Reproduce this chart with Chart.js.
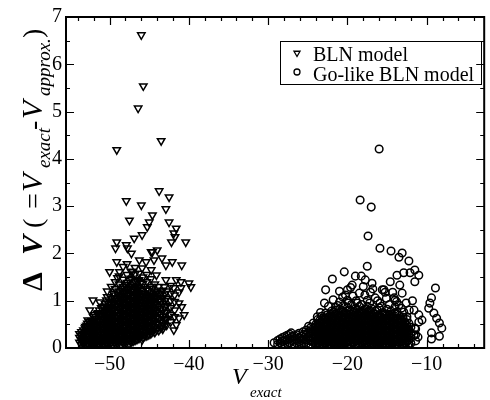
<!DOCTYPE html>
<html>
<head>
<meta charset="utf-8">
<script src="https://cdn.jsdelivr.net/npm/chart.js@4.4.1/dist/chart.umd.min.js"></script>
<style>
  html, body { margin: 0; padding: 0; background: #fff; }
  #wrap { width: 490px; height: 400px; }
</style>
</head>
<body>
<div id="wrap"><canvas id="c" width="490" height="400"></canvas></div>
<script>
// ---------------- data ----------------
const seriesNames = ['BLN model', 'Go-like BLN model'];
const xTicks = [-50, -40, -30, -20, -10];
const yTicks = [0, 1, 2, 3, 4, 5, 6, 7];

// BLN model: isolated points [V_exact, ΔV]
const blnSparse = [
  [-46.0,6.62],[-45.75,5.54],[-46.4,5.07],[-49.1,4.19],[-43.5,4.38],[-43.75,3.32],[-42.5,3.19],
  [-47.9,3.11],[-46.0,3.02],[-42.9,2.94],[-44.6,2.81],[-47.5,2.70],[-45.0,2.66],[-45.25,2.56],
  [-42.5,2.66],[-41.6,2.53],[-41.9,2.43],[-41.75,2.35],[-40.4,2.24],[-45.9,2.39],[-46.9,2.32],
  [-47.9,2.18],[-49.1,2.24],[-49.25,2.11],[-47.75,2.11],[-47.25,2.0],[-44.75,2.03],[-44.0,2.07],
  [-49.1,1.82],[-46.25,1.86],[-45.4,1.82],[-44.4,1.86],[-43.4,1.90],[-42.1,1.82],[-40.9,1.75],
  [-42.9,1.75],[-50.0,1.61],[-48.75,1.61],[-49.0,1.48],[-47.1,1.61],[-45.9,1.69],[-44.75,1.65],
  [-44.1,1.54],[-42.9,1.44],[-41.6,1.44],[-41.0,1.40],[-40.0,1.37],[-39.75,1.29],[-41.0,1.27],
  [-41.9,1.27],[-41.25,1.18],[-43.1,1.29],[-43.5,1.18],[-51.25,0.97],[-52.1,1.01],[-50.4,1.01],
  [-50.25,0.87],[-52.5,0.80],[-51.9,0.70],[-52.75,0.59],[-53.1,0.42],[-53.4,0.13],[-41.25,0.95],
  [-40.9,0.87],[-40.6,0.70],[-41.25,0.63],[-41.6,0.49],[-41.9,0.38],[-43.4,0.44],[-42.9,0.59],
  [-45.9,0.17],[-42.2,2.24],[-44.6,2.03]
];
// BLN model: dense cloud, columns [V_exact, [ΔV ...]]
const blnDense = [
  [-53.8,[0.12,0.22,0.30]],
  [-53.3,[0.08,0.18,0.28,0.38]],
  [-52.8,[0.10,0.20,0.31,0.42,0.52]],
  [-52.3,[0.06,0.15,0.25,0.36,0.47,0.58]],
  [-51.8,[0.09,0.19,0.29,0.40,0.50,0.62]],
  [-51.3,[0.05,0.14,0.24,0.34,0.45,0.55,0.68,0.80]],
  [-50.8,[0.10,0.20,0.30,0.41,0.52,0.63,0.74,0.88]],
  [-50.3,[0.07,0.17,0.27,0.38,0.48,0.59,0.70,0.82,1.08,1.20]],
  [-49.8,[0.12,0.22,0.33,0.44,0.55,0.66,0.78,0.92,1.05,1.30]],
  [-49.3,[0.08,0.18,0.29,0.40,0.52,0.64,0.75,0.88,1.00,1.12,1.25,1.40]],
  [-48.8,[0.13,0.24,0.35,0.47,0.58,0.70,0.83,0.95,1.08,1.20,1.35,1.52]],
  [-48.3,[0.10,0.20,0.31,0.43,0.55,0.67,0.79,0.91,1.03,1.16,1.30,1.45,1.72]],
  [-47.8,[0.15,0.26,0.38,0.50,0.62,0.74,0.86,0.99,1.11,1.24,1.38,1.55,1.78]],
  [-47.3,[0.12,0.22,0.34,0.46,0.58,0.70,0.82,0.94,1.06,1.19,1.33,1.47,1.62]],
  [-46.8,[0.16,0.28,0.40,0.52,0.64,0.76,0.88,1.00,1.13,1.26,1.40,1.56,1.70]],
  [-46.3,[0.20,0.31,0.43,0.55,0.67,0.79,0.91,1.04,1.17,1.30,1.44,1.58]],
  [-45.8,[0.22,0.35,0.47,0.59,0.71,0.83,0.96,1.09,1.22,1.36,1.50]],
  [-45.3,[0.26,0.38,0.50,0.62,0.74,0.86,0.99,1.12,1.25,1.40,1.55]],
  [-44.8,[0.30,0.42,0.54,0.66,0.78,0.90,1.03,1.16,1.30,1.46]],
  [-44.3,[0.33,0.45,0.57,0.69,0.81,0.94,1.07,1.20,1.35]],
  [-43.8,[0.37,0.50,0.62,0.75,0.88,1.01,1.15,1.30]],
  [-43.3,[0.40,0.54,0.67,0.80,0.93,1.06,1.22]],
  [-42.8,[0.48,0.62,0.76,0.90,1.05,1.20]],
  [-42.3,[0.55,0.70,0.85,1.00,1.15,1.32]],
  [-41.8,[0.66,0.80,0.98,1.12]]
];
const blnDense2 = [
  [-53.55,[0.07,0.17,0.26,0.34]],
  [-53.05,[0.05,0.14,0.24,0.33,0.45]],
  [-52.55,[0.13,0.23,0.35,0.46,0.55]],
  [-52.05,[0.04,0.12,0.22,0.33,0.44,0.54,0.66]],
  [-51.55,[0.07,0.17,0.27,0.37,0.48,0.58,0.73]],
  [-51.05,[0.09,0.18,0.28,0.38,0.49,0.60,0.71,0.85]],
  [-50.55,[0.05,0.14,0.24,0.35,0.45,0.56,0.67,0.78,0.93]],
  [-50.05,[0.10,0.20,0.30,0.41,0.52,0.62,0.74,0.86,0.98]],
  [-49.55,[0.06,0.15,0.26,0.37,0.48,0.59,0.70,0.82,0.96,1.15]],
  [-49.05,[0.10,0.21,0.32,0.44,0.56,0.68,0.80,0.93,1.05,1.18]],
  [-48.55,[0.07,0.17,0.28,0.39,0.51,0.63,0.75,0.87,0.99,1.12,1.26]],
  [-48.05,[0.12,0.23,0.35,0.47,0.59,0.71,0.83,0.95,1.07,1.20,1.34]],
  [-47.55,[0.09,0.19,0.30,0.42,0.54,0.66,0.78,0.90,1.02,1.15,1.29,1.44]],
  [-47.05,[0.14,0.26,0.38,0.50,0.62,0.74,0.86,0.98,1.10,1.23,1.37]],
  [-46.55,[0.18,0.30,0.42,0.54,0.66,0.78,0.90,1.02,1.15,1.28,1.42]],
  [-46.05,[0.24,0.36,0.48,0.60,0.72,0.85,0.97,1.10,1.24,1.38]],
  [-45.55,[0.25,0.40,0.53,0.65,0.77,0.89,1.02,1.15,1.30]],
  [-45.05,[0.28,0.44,0.57,0.70,0.82,0.95,1.08,1.22]],
  [-44.55,[0.34,0.48,0.61,0.74,0.86,0.99,1.12,1.26]],
  [-44.05,[0.38,0.52,0.65,0.78,0.91,1.04,1.18]],
  [-43.55,[0.42,0.57,0.71,0.84,0.98,1.12]],
  [-43.05,[0.47,0.60,0.74,0.87,1.00,1.14]]
];
const blnDense3 = [
  [-53.4,[0.10,0.20,0.29]],
  [-52.9,[0.06,0.16,0.26,0.37,0.48]],
  [-52.4,[0.10,0.20,0.30,0.41,0.52]],
  [-51.9,[0.06,0.14,0.24,0.35,0.45,0.56]],
  [-51.4,[0.10,0.19,0.29,0.40,0.50,0.62,0.74]],
  [-50.9,[0.06,0.15,0.25,0.35,0.46,0.57,0.68,0.80]],
  [-50.4,[0.12,0.22,0.32,0.43,0.54,0.65,0.76,0.88]],
  [-49.9,[0.08,0.17,0.27,0.38,0.49,0.60,0.72,0.85,0.97]],
  [-49.4,[0.13,0.23,0.34,0.46,0.58,0.70,0.82,0.94,1.06]],
  [-48.9,[0.09,0.19,0.30,0.41,0.53,0.64,0.76,0.89,1.01,1.14]],
  [-48.4,[0.15,0.26,0.37,0.49,0.61,0.73,0.85,0.97,1.10,1.22]],
  [-47.9,[0.10,0.21,0.32,0.44,0.56,0.68,0.80,0.92,1.05,1.18,1.30]],
  [-47.4,[0.17,0.28,0.40,0.52,0.64,0.76,0.88,1.00,1.13,1.26]],
  [-46.9,[0.22,0.34,0.46,0.58,0.70,0.82,0.94,1.07,1.20]],
  [-46.4,[0.25,0.37,0.49,0.61,0.73,0.85,0.97,1.10,1.23]],
  [-45.9,[0.28,0.41,0.53,0.65,0.77,0.90,1.02,1.15]],
  [-45.4,[0.32,0.44,0.56,0.68,0.80,0.93,1.06]],
  [-44.9,[0.36,0.48,0.60,0.72,0.84,0.97,1.10]],
  [-44.4,[0.40,0.52,0.64,0.76,0.88,1.01]]
];

// Go-like BLN model: isolated points [V_exact, ΔV]
const goSparse = [
  [-16.0,4.21],[-18.4,3.13],[-17.0,2.98],[-17.4,2.37],[-15.9,2.11],[-14.5,2.05],[-13.1,2.01],
  [-13.5,1.92],[-12.25,1.84],[-17.5,1.73],[-20.4,1.61],[-19.0,1.52],[-18.25,1.52],[-17.75,1.44],
  [-21.9,1.46],[-16.9,1.37],[-19.4,1.33],[-22.75,1.23],[-20.0,1.23],[-20.25,1.12],[-18.5,1.16],
  [-17.1,1.18],[-15.6,1.23],[-15.25,1.18],[-14.6,1.40],[-13.75,1.54],[-12.9,1.59],[-12.1,1.59],
  [-11.5,1.65],[-11.0,1.54],[-11.5,1.40],[-13.4,1.33],[-13.1,1.16],[-14.1,1.06],[-22.9,0.95],
  [-22.75,0.74],[-21.0,0.97],[-21.5,0.80],[-20.0,1.01],[-18.75,0.95],[-17.5,1.01],[-16.5,1.06],
  [-15.9,0.95],[-13.5,0.91],[-12.9,0.76],[-12.5,0.66],[-11.6,0.80],[-11.0,0.55],[-11.5,0.42],
  [-11.6,0.27],[-12.75,0.23],[-8.9,1.27],[-9.4,1.06],[-9.6,0.95],[-9.75,0.84],[-9.1,0.74],
  [-8.75,0.63],[-8.4,0.53],[-8.1,0.42],[-9.4,0.32],[-8.4,0.25],[-9.4,0.19],[-10.6,0.59],
  [-11.0,0.70],[-29.25,0.11],[-27.9,0.17],[-27.1,0.32],[-25.6,0.34],[-26.0,0.21],[-24.1,0.38],
  [-23.4,0.27],[-11.1,0.23],[-15.4,1.23],[-14.0,1.01],
  [-22.4,0.88],[-21.8,1.02],[-21.2,0.90],[-20.6,1.08],[-19.9,0.95],[-19.3,1.10],[-18.9,1.00],
  [-18.2,0.92],[-17.8,1.12],[-17.2,0.95],[-16.8,1.25],[-16.2,1.00],[-15.7,0.88],[-15.1,1.05],
  [-14.7,0.92],[-14.3,1.18],[-13.8,0.98],[-13.2,0.84],[-12.6,0.95],[-12.2,0.80],[-11.8,1.00],
  [-19.6,1.28],[-18.0,1.30],[-21.0,1.20],[-23.4,0.75],[-23.8,0.66]
];
// Go-like BLN model: dense cloud, columns [V_exact, [ΔV ...]]
const goDense = [
  [-28.8,[0.08,0.16]],
  [-28.2,[0.06,0.14,0.22]],
  [-27.6,[0.09,0.18,0.27]],
  [-27.0,[0.06,0.15,0.24]],
  [-26.4,[0.10,0.19,0.28]],
  [-25.8,[0.07,0.16,0.25]],
  [-25.2,[0.09,0.18,0.28,0.38]],
  [-24.6,[0.06,0.15,0.24,0.34,0.44]],
  [-24.0,[0.10,0.19,0.29,0.39,0.50]],
  [-23.5,[0.07,0.16,0.26,0.36,0.46,0.58]],
  [-23.0,[0.11,0.21,0.31,0.41,0.52,0.64]],
  [-22.5,[0.08,0.17,0.27,0.37,0.48,0.59,0.70]],
  [-22.0,[0.12,0.22,0.32,0.43,0.54,0.65,0.78]],
  [-21.5,[0.09,0.18,0.28,0.39,0.50,0.61,0.72,0.86]],
  [-21.0,[0.06,0.15,0.25,0.35,0.46,0.57,0.68,0.82]],
  [-20.5,[0.11,0.21,0.31,0.42,0.53,0.64,0.76,0.90]],
  [-20.0,[0.08,0.17,0.27,0.38,0.49,0.60,0.72,0.85]],
  [-19.5,[0.12,0.22,0.33,0.44,0.55,0.66,0.78,0.92]],
  [-19.0,[0.07,0.16,0.26,0.37,0.48,0.59,0.70,0.83]],
  [-18.5,[0.10,0.20,0.30,0.41,0.52,0.63,0.75,0.88]],
  [-18.0,[0.06,0.15,0.25,0.35,0.46,0.57,0.68,0.80]],
  [-17.5,[0.11,0.21,0.31,0.42,0.53,0.64,0.76,0.88]],
  [-17.0,[0.08,0.17,0.27,0.38,0.49,0.60,0.71,0.84]],
  [-16.5,[0.12,0.22,0.33,0.44,0.55,0.66,0.78]],
  [-16.0,[0.07,0.16,0.26,0.37,0.48,0.59,0.70,0.85]],
  [-15.5,[0.10,0.20,0.30,0.41,0.52,0.63,0.75]],
  [-15.0,[0.06,0.15,0.25,0.36,0.47,0.58,0.70,0.82]],
  [-14.5,[0.11,0.21,0.32,0.43,0.54,0.66,0.78]],
  [-14.0,[0.08,0.18,0.28,0.39,0.50,0.62,0.74,0.87]],
  [-13.5,[0.12,0.23,0.34,0.45,0.57,0.69]],
  [-13.0,[0.09,0.19,0.30,0.41,0.53,0.65]],
  [-12.5,[0.14,0.25,0.36,0.48,0.60]],
  [-12.0,[0.10,0.21,0.32,0.44]],
  [-11.4,[0.15,0.28,0.40]]
];
const goDense2 = [
  [-28.5,[0.11,0.19]],
  [-27.9,[0.07,0.15,0.24]],
  [-27.3,[0.11,0.20,0.29]],
  [-26.7,[0.08,0.17,0.26]],
  [-26.1,[0.05,0.13,0.22,0.31]],
  [-25.5,[0.10,0.19,0.29]],
  [-24.9,[0.07,0.16,0.25,0.35,0.46]],
  [-24.3,[0.12,0.21,0.31,0.42,0.53]],
  [-23.75,[0.09,0.18,0.28,0.38,0.49,0.60]],
  [-23.25,[0.05,0.14,0.24,0.34,0.44,0.55,0.67]],
  [-22.75,[0.10,0.19,0.29,0.39,0.50,0.62]],
  [-22.25,[0.06,0.15,0.25,0.35,0.45,0.56,0.68]],
  [-21.75,[0.11,0.20,0.30,0.41,0.52,0.63,0.75]],
  [-21.25,[0.08,0.17,0.27,0.37,0.48,0.59,0.70]],
  [-20.75,[0.05,0.13,0.23,0.33,0.44,0.55,0.66,0.79]],
  [-20.25,[0.10,0.19,0.29,0.40,0.51,0.62,0.74]],
  [-19.75,[0.06,0.15,0.25,0.35,0.46,0.57,0.69,0.81]],
  [-19.25,[0.11,0.20,0.30,0.41,0.52,0.63,0.75]],
  [-18.75,[0.07,0.16,0.26,0.36,0.47,0.58,0.69,0.81]],
  [-18.25,[0.12,0.21,0.31,0.42,0.53,0.64,0.76]],
  [-17.75,[0.08,0.17,0.27,0.37,0.48,0.59,0.70,0.82]],
  [-17.25,[0.05,0.14,0.24,0.34,0.45,0.56,0.67,0.79]],
  [-16.75,[0.10,0.19,0.29,0.40,0.51,0.62,0.73]],
  [-16.25,[0.06,0.15,0.25,0.35,0.46,0.57,0.68,0.80]],
  [-15.75,[0.11,0.21,0.31,0.42,0.53,0.65]],
  [-15.25,[0.08,0.17,0.27,0.38,0.49,0.60,0.72]],
  [-14.75,[0.05,0.14,0.24,0.35,0.46,0.57,0.69]],
  [-14.25,[0.10,0.20,0.30,0.41,0.52,0.64]],
  [-13.75,[0.07,0.17,0.28,0.39,0.50,0.62,0.76]],
  [-13.25,[0.13,0.24,0.35,0.47,0.59]],
  [-12.75,[0.10,0.20,0.31,0.43,0.55]],
  [-12.25,[0.07,0.17,0.28,0.39,0.52]]
];
const goDense3 = [
  [-24.1,[0.14,0.24,0.34,0.45]],
  [-23.6,[0.11,0.21,0.31,0.41,0.52]],
  [-23.1,[0.08,0.17,0.27,0.37,0.47,0.58]],
  [-22.6,[0.13,0.22,0.32,0.43,0.54,0.64]],
  [-22.1,[0.09,0.18,0.28,0.38,0.49,0.60,0.71]],
  [-21.6,[0.05,0.14,0.24,0.34,0.45,0.56,0.67]],
  [-21.1,[0.10,0.20,0.30,0.41,0.52,0.63,0.74]],
  [-20.6,[0.07,0.16,0.26,0.37,0.48,0.59,0.70]],
  [-20.1,[0.12,0.22,0.33,0.44,0.55,0.66,0.78]],
  [-19.6,[0.08,0.17,0.28,0.39,0.50,0.61,0.72]],
  [-19.1,[0.12,0.21,0.32,0.43,0.54,0.65,0.77]],
  [-18.6,[0.05,0.15,0.25,0.36,0.47,0.58,0.70]],
  [-18.1,[0.10,0.20,0.30,0.41,0.52,0.63,0.74]],
  [-17.6,[0.06,0.16,0.26,0.37,0.48,0.59,0.70]],
  [-17.1,[0.12,0.22,0.33,0.44,0.55,0.66,0.77]],
  [-16.6,[0.07,0.17,0.28,0.39,0.50,0.61,0.72]],
  [-16.1,[0.11,0.21,0.32,0.43,0.54,0.65]],
  [-15.6,[0.06,0.15,0.25,0.36,0.47,0.58,0.69]],
  [-15.1,[0.10,0.20,0.31,0.42,0.53,0.64]],
  [-14.6,[0.07,0.16,0.27,0.38,0.49,0.60,0.72]],
  [-14.1,[0.13,0.23,0.34,0.45,0.56,0.68]],
  [-13.6,[0.09,0.19,0.30,0.41,0.52,0.63]],
  [-13.1,[0.06,0.15,0.25,0.36,0.47,0.59]],
  [-12.6,[0.11,0.21,0.32,0.44]]
];

// ---------------- build points ----------------
function toPoints(sparse, ...denseSets) {
  const pts = sparse.map(([x, y]) => ({ x, y }));
  denseSets.forEach(dense => dense.forEach(([x, ys]) => ys.forEach(y => pts.push({ x, y }))));
  return pts;
}
const blnPoints = toPoints(blnSparse, blnDense, blnDense2, blnDense3);
const goPoints = toPoints(goSparse, goDense, goDense2, goDense3);

const SERIF = '"Liberation Serif", "DejaVu Serif", serif';
const minus = v => (v < 0 ? '\u2212' + Math.abs(v) : String(v));

// ---------------- frame / ticks / titles / legend plugin ----------------
const framePlugin = {
  id: 'frame',
  afterDraw(chart) {
    const ctx = chart.ctx;
    const { left, right, top, bottom } = chart.chartArea;
    const xs = chart.scales.x, ys = chart.scales.y;
    ctx.save();
    ctx.strokeStyle = '#000';
    ctx.fillStyle = '#000';
    // box
    ctx.lineWidth = 2;
    ctx.beginPath();
    ctx.moveTo(left, top); ctx.lineTo(right, top); ctx.lineTo(right, bottom);
    ctx.lineTo(left, bottom); ctx.closePath();
    ctx.stroke();
    // inward ticks
    ctx.lineWidth = 1.2;
    ctx.beginPath();
    for (let v = -54; v <= -4; v += 2) {
      const px = Math.round(xs.getPixelForValue(v)) + 0.5;
      const len = (v % 10 === 0) ? 8 : 4;
      ctx.moveTo(px, bottom); ctx.lineTo(px, bottom - len);
      ctx.moveTo(px, top); ctx.lineTo(px, top + len);
    }
    for (let v = 0.5; v < 7; v += 0.5) {
      const py = Math.round(ys.getPixelForValue(v)) + 0.5;
      const len = (v % 1 === 0) ? 8 : 4;
      ctx.moveTo(left, py); ctx.lineTo(left + len, py);
      ctx.moveTo(right, py); ctx.lineTo(right - len, py);
    }
    ctx.stroke();

    // legend
    ctx.lineWidth = 1;
    ctx.strokeRect(280.5, 41.5, 201, 43);
    ctx.textBaseline = 'alphabetic';
    ctx.textAlign = 'left';
    ctx.font = '20px ' + SERIF;
    ctx.fillStyle = 'rgba(0,0,0,0)';
    ctx.lineWidth = 1.3;
    Chart.helpers.drawPoint(ctx, { pointStyle: 'triangle', radius: 3.5, rotation: 180, borderWidth: 1.3 }, 297, 53);
    ctx.beginPath();
    ctx.arc(297, 72, 3, 0, Math.PI * 2);
    ctx.stroke();
    ctx.fillStyle = '#000';
    ctx.fillText(seriesNames[0], 313, 61);
    ctx.fillText(seriesNames[1], 313, 81);

    // x title
    ctx.font = 'italic 24px ' + SERIF;
    ctx.fillText('V', 232, 384);
    ctx.font = 'italic 15px ' + SERIF;
    ctx.fillText('exact', 250, 397);

    // y title (rotated)
    ctx.translate(42, 0);
    ctx.rotate(-Math.PI / 2);
    const segs = [
      { t: '\u0394', f: 'bold 30px ' + SERIF, s: 291, dy: 0 },
      { t: 'V', f: 'bold italic 30px ' + SERIF, s: 255, dy: 0 },
      { t: '(', f: '28px ' + SERIF, s: 228, dy: 0 },
      { t: '=', f: '28px ' + SERIF, s: 209, dy: 0 },
      { t: 'V', f: 'italic 30px ' + SERIF, s: 192, dy: 0 },
      { t: 'exact', f: 'italic 19px ' + SERIF, s: 168, dy: 8 },
      { t: '-', f: '28px ' + SERIF, s: 130, dy: 0 },
      { t: 'V', f: 'italic 30px ' + SERIF, s: 119, dy: 0 },
      { t: 'approx.', f: 'italic 19px ' + SERIF, s: 96, dy: 8 },
      { t: ')', f: '28px ' + SERIF, s: 38, dy: 0 }
    ];
    segs.forEach(sg => {
      ctx.font = sg.f;
      ctx.fillText(sg.t, -sg.s, sg.dy);
    });
    ctx.restore();
  }
};

new Chart(document.getElementById('c'), {
  type: 'scatter',
  data: {
    datasets: [
      {
        label: seriesNames[0],
        data: blnPoints,
        pointStyle: 'triangle',
        rotation: 180,
        pointRadius: 4.3,
        borderWidth: 1.5,
        borderColor: '#000',
        backgroundColor: 'rgba(0,0,0,0)'
      },
      {
        label: seriesNames[1],
        data: goPoints,
        pointStyle: 'circle',
        pointRadius: 3.8,
        borderWidth: 1.5,
        borderColor: '#000',
        backgroundColor: 'rgba(0,0,0,0)'
      }
    ]
  },
  options: {
    responsive: false,
    animation: false,
    devicePixelRatio: 1,
    layout: { padding: { top: 17, right: 2, left: 0, bottom: 0 } },
    plugins: { legend: { display: false }, tooltip: { enabled: false } },
    scales: {
      x: {
        type: 'linear',
        min: -55.5,
        max: -2.75,
        afterBuildTicks: s => { s.ticks = xTicks.map(v => ({ value: v })); },
        afterFit: s => { s.height = 52; },
        grid: { display: false, drawTicks: false },
        border: { display: false },
        ticks: {
          autoSkip: false, maxRotation: 0, padding: 5, color: '#000',
          font: { family: SERIF, size: 20 },
          callback: v => minus(v)
        }
      },
      y: {
        type: 'linear',
        min: 0,
        max: 7,
        afterBuildTicks: s => { s.ticks = yTicks.map(v => ({ value: v })); },
        afterFit: s => { s.width = 66; },
        grid: { display: false, drawTicks: false },
        border: { display: false },
        ticks: {
          autoSkip: false, padding: 4, color: '#000',
          font: { family: SERIF, size: 20 },
          callback: v => minus(v)
        }
      }
    }
  },
  plugins: [framePlugin]
});
</script>
</body>
</html>
